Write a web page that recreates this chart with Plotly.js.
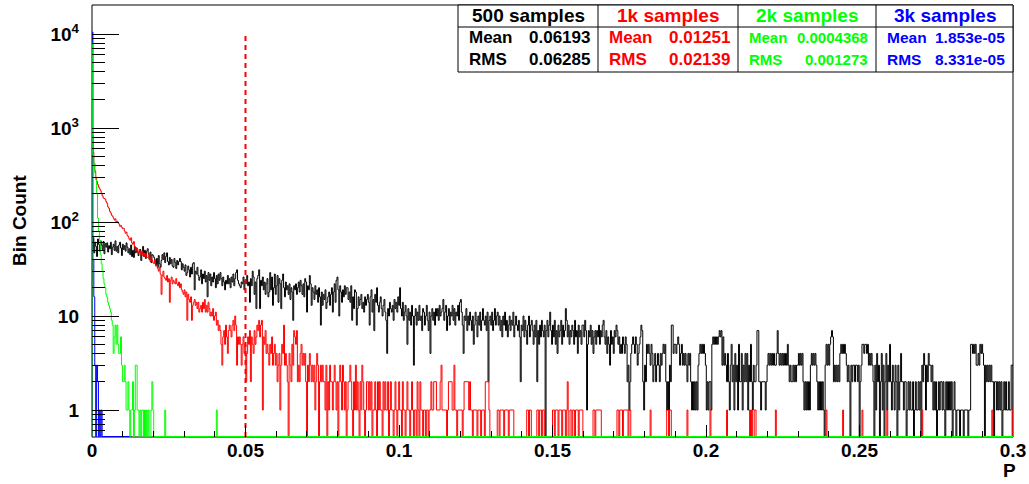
<!DOCTYPE html>
<html>
<head>
<meta charset="utf-8">
<script src="https://cdn.plot.ly/plotly-3.0.1.min.js"></script>
<style>
  html, body { margin: 0; padding: 0; background: #ffffff; }
  #chart { width: 1029px; height: 484px; }
</style>
</head>
<body>
<div id="chart"></div>
<script>
// Histogram binning of the p-value axis
const BIN_WIDTH = 0.0003;
const N_BINS = 1000;

// Axis ticks
const xTickVals = [0, 0.05, 0.1, 0.15, 0.2, 0.25, 0.3];
const xTickText = ['0', '0.05', '0.1', '0.15', '0.2', '0.25', '0.3'];
const yTickVals = [1, 10, 100, 1000, 10000];
const yTickText = ['1', '10', '10<sup>2</sup>', '10<sup>3</sup>', '10<sup>4</sup>'];

// Cut marker
const cutValue = 0.05;
const cutTop = 10000;

// Statistics table
const seriesNames = ['500 samples', '1k samples', '2k samples', '3k samples'];
const seriesMean = ['0.06193', '0.01251', '0.0004368', '1.853e-05'];
const seriesRms = ['0.06285', '0.02139', '0.001273', '8.331e-05'];
const seriesColors = ['#000000', '#ff0000', '#00ff00', '#0000ff'];

// Bin counts, 500 samples
const counts500 = [
52,68,47,61,55,43,66,58,49,63,
57,51,62,46,59,54,60,48,56,52,
61,45,54,58,50,63,49,55,47,57,
61,53,44,58,51,56,49,60,54,47,
52,45,57,43,50,42,55,47,53,48,
44,48,51,39,46,55,43,50,41,49,
52,46,40,48,37,45,44,42,38,35,
41,33,44,36,33,39,45,40,47,37,
43,47,38,35,42,36,40,34,33,41,
37,32,39,35,38,41,38,31,36,33,
30,35,27,29,34,31,26,33,28,36,
37,19,30,28,33,27,24,26,31,22,
28,25,30,23,27,16,29,24,28,21,
26,23,29,25,20,27,22,28,24,29,
25,21,26,23,19,24,22,27,22,25,
20,26,23,28,21,25,29,31,24,22,
21,20,23,22,26,19,24,22,27,21,
23,14,25,21,30,26,17,23,12,25,
27,31,12,24,21,26,19,23,17,22,
25,16,18,29,19,26,13,20,28,17,
21,27,14,25,22,12,24,28,20,16,
23,19,21,17,22,15,20,18,9,21,
19,22,17,20,23,18,24,21,17,22,
16,25,23,11,21,19,27,22,13,20,
18,15,21,17,19,14,20,16,8,18,
13,17,15,19,12,14,16,18,13,17,
20,11,18,22,14,24,26,19,10,21,
18,14,19,16,21,17,20,20,15,18,
14,21,9,16,12,19,18,8,12,16,
13,15,17,12,14,11,16,13,15,17,
14,8,16,19,11,15,7,17,14,20,
13,11,14,16,12,10,13,15,11,9,
4,12,10,14,12,11,13,9,15,12,
14,11,16,13,20,12,10,14,9,11,
13,10,5,12,9,11,8,13,10,3,
10,12,8,11,9,13,9,10,7,12,
11,8,10,13,9,7,11,4,10,12,
9,11,8,12,10,12,9,13,10,11,
12,15,9,11,13,7,10,12,8,11,
10,13,9,12,8,11,10,13,9,14,
15,11,8,4,10,9,12,7,10,8,
11,9,7,10,5,8,11,9,6,10,
8,11,7,9,12,9,8,10,7,11,
2,9,10,8,11,7,9,12,8,10,
11,8,10,7,9,6,10,8,11,7,
9,6,8,10,7,9,8,11,6,8,
10,8,7,9,6,2,8,7,10,6,
9,7,5,8,10,6,8,9,7,5,
8,6,9,2,7,5,8,6,9,7,
6,8,0,7,9,6,8,11,7,5,
8,6,9,5,7,4,8,6,7,9,
5,8,6,7,12,9,6,8,5,7,
6,8,7,5,9,6,7,4,8,6,
7,5,8,8,6,9,7,1,5,7,
6,8,5,7,4,6,7,5,7,6,
8,5,7,6,8,9,6,5,7,4,
6,5,3,7,5,6,4,7,6,8,
7,5,6,4,5,4,6,5,4,6,
5,2,3,1,2,4,5,6,5,4,
6,5,3,4,5,6,8,7,2,1,
3,2,5,4,5,4,3,5,4,2,
3,4,2,3,4,3,2,4,3,4,
5,4,5,2,1,2,1,3,2,8,
8,4,5,5,4,5,6,5,3,4,
5,3,4,3,4,3,2,4,3,4,
2,1,2,1,2,1,2,1,3,4,
5,4,5,4,5,4,3,1,2,1,
2,2,1,5,6,5,6,5,6,5,
6,7,6,7,3,6,3,4,3,2,
4,2,1,3,5,2,3,1,4,2,
3,1,5,2,2,4,1,3,2,4,
2,4,1,3,2,5,2,1,3,2,
2,3,7,7,2,2,1,2,2,2,
2,1,2,3,4,3,4,3,4,3,
4,3,3,4,7,4,3,4,3,4,
3,4,3,4,3,5,3,2,3,2,
2,3,2,3,2,3,3,4,3,4,
3,4,2,1,2,1,2,1,2,1,
3,4,3,4,3,4,3,2,1,2,
1,2,1,2,1,0,3,5,3,5,
3,5,6,7,6,2,3,2,3,2,
3,2,4,5,4,5,4,5,4,3,
2,3,2,0,3,2,3,3,2,3,
3,2,3,0,2,3,5,5,4,5,
5,4,5,3,4,3,4,3,2,0,
3,1,4,2,3,0,2,4,1,3,
0,2,4,1,3,2,5,2,1,3,
2,1,3,2,0,3,1,2,4,2,
2,1,2,2,0,1,2,1,2,1,
1,2,0,1,2,1,1,2,1,2,
0,3,2,4,3,1,3,2,4,3,
3,2,3,1,2,1,2,0,1,2,
1,2,2,1,2,1,0,2,1,2,
1,2,1,2,0,1,2,1,0,1,
1,1,0,1,1,1,0,1,1,1,
1,0,1,1,5,5,4,5,4,5,
3,3,4,3,5,4,5,4,3,0,
3,2,3,2,3,2,3,2,2,0,
2,2,1,2,1,2,1,2,0,1,
2,1,2,1,1,2,1,1,3,3
];

// Bin counts, 1k samples
const counts1k = [
850,550,420,350,300,270,250,235,225,215,
200,190,180,178,175,165,158,145,140,130,
125,118,115,110,105,108,100,102,98,95,
90,92,88,85,86,80,76,78,72,70,
66,64,68,60,58,62,54,50,53,49,
47,51,48,45,49,44,47,43,46,42,
42,45,40,38,43,39,37,36,40,34,
35,32,30,33,28,17,27,30,26,25,
24,27,23,25,14,24,26,22,24,23,
22,25,22,21,23,20,22,19,18,17,
19,16,18,9,17,15,14,16,9,13,
14,15,13,14,12,14,11,12,13,11,
14,12,15,11,13,11,14,12,10,11,
10,12,9,10,11,8,9,7,8,7,
5,3,6,7,5,8,6,4,7,8,
7,6,8,9,7,10,8,3,6,5,
6,5,3,5,6,4,5,2,4,6,
5,7,2,6,5,4,7,5,6,8,
7,9,6,8,9,1,6,5,7,4,
5,4,3,5,4,6,3,4,5,3,
4,2,3,4,1,3,5,4,8,3,
4,3,2,0,4,3,2,5,3,7,
6,5,7,2,3,2,4,5,3,4,
3,4,2,0,3,2,4,3,2,3,
2,3,1,2,4,3,0,2,3,2,
3,2,2,1,3,0,2,1,3,2,
2,1,2,3,2,1,2,0,2,3,
2,1,3,2,1,2,0,1,2,2,
3,2,1,0,2,1,3,1,2,1,
0,2,1,3,2,1,0,1,2,2,
1,2,1,2,0,1,1,2,1,0,
2,1,2,1,1,0,2,1,2,1,
1,2,0,1,2,1,1,0,1,2,
1,0,1,2,1,1,0,2,1,1,
0,1,2,1,1,0,1,2,1,0,
1,1,0,2,1,0,2,1,1,0,
1,1,0,1,1,0,1,1,2,1,
1,2,2,2,1,1,1,1,2,3,
1,1,1,1,1,0,1,2,2,2,
2,1,1,3,1,1,0,1,1,1,
1,1,0,1,2,2,2,2,2,1,
2,1,1,0,1,1,1,1,0,1,
1,1,0,1,1,1,0,2,2,2,
2,1,0,0,0,0,0,0,0,0,
1,1,0,1,1,1,1,0,1,1,
1,1,0,1,1,1,1,1,0,0,
0,0,0,0,0,0,0,0,0,0,
0,0,1,1,0,1,1,0,0,0,
0,0,0,1,1,0,1,1,0,1,
1,0,0,0,0,0,0,0,0,0,
1,1,0,1,1,1,0,1,1,1,
0,1,1,1,0,1,2,0,0,1,
1,0,1,1,0,1,1,1,0,1,
1,1,1,0,0,0,0,0,0,0,
0,0,0,0,1,1,0,1,1,1,
1,1,1,0,0,0,0,0,0,0,
0,0,0,0,0,0,0,0,0,0,
1,1,0,1,1,1,0,1,1,1,
1,1,0,1,1,0,0,0,0,0,
0,0,0,0,0,0,0,0,0,0,
0,0,0,0,0,0,1,0,0,0,
0,0,0,0,0,0,0,0,0,0,
0,0,0,0,1,1,0,1,1,0,
0,0,0,0,0,0,0,0,0,0,
0,0,0,0,0,0,1,0,0,0,
0,0,0,0,0,0,0,0,0,0,
0,0,0,0,0,0,0,0,0,0,
0,1,0,0,0,0,0,0,0,0,
0,0,0,0,0,0,0,0,0,1,
0,0,0,0,0,0,0,0,0,0,
0,0,0,0,0,0,0,0,0,0,
0,0,0,0,1,0,1,0,0,1,
1,0,0,0,0,0,0,0,0,0,
0,0,0,0,0,0,0,0,0,0,
0,0,1,0,0,0,0,0,0,0,
0,0,0,0,0,0,0,0,0,0,
0,0,0,0,0,0,0,0,0,0,
0,0,0,0,0,0,0,0,0,0,
0,0,0,0,0,0,0,0,0,0,
0,0,0,0,0,0,0,1,0,0,
0,0,0,0,0,0,0,0,0,0,
0,0,0,0,0,1,0,0,0,0,
0,0,0,0,0,0,0,0,0,0,
0,0,0,0,0,0,1,0,0,0,
0,0,0,0,0,0,0,0,0,0,
0,0,0,0,0,0,0,0,0,0,
0,0,0,1,0,0,0,0,0,0,
0,0,0,0,0,0,0,0,0,0,
0,0,0,0,0,0,0,0,0,0,
0,0,0,0,0,0,0,0,0,0,
0,1,0,0,0,0,0,0,0,0,
0,0,0,0,0,0,0,0,0,0,
0,0,0,0,0,0,0,0,0,0,
0,0,0,0,0,0,0,0,0,0,
0,0,0,0,0,0,0,0,0,0,
0,0,0,0,0,0,0,0,0,0,
0,0,0,0,0,0,0,0,0,0,
0,0,0,0,0,0,0,1,0,0,
0,0,0,0,0,0,0,0,0,0,
0,0,0,0,0,0,0,0,0,1
];

// Bin counts, 2k samples (bins beyond the list are empty)
const counts2k = [
8000,520,420,330,280,200,110,80,64,45,
36,30,25,22,20,17,16,14,13,12,
11,9,8,4,6,8,5,8,5,4,
4,6,3,2,2,3,2,1,1,2,
1,0,1,1,2,0,1,3,3,1,
1,0,1,0,1,1,0,1,0,1,
0,1,0,0,1,2,1,0,0,0,
0,0,0,0,0,0,0,0,0,1,
0,0,0,0,0,0,0,0,0,0,
0,0,0,0,0,0,0,0,0,0,
0,0,0,0,0,0,0,0,0,0,
0,0,0,0,0,0,0,0,0,0,
0,0,0,0,0,0,0,0,0,0,
0,0,0,0,0,1
];

// Bin counts, 3k samples
const counts3k = [
10500,40,16,3,0,3,2,0,1,0,
1,0,0,0,0,0,0,0,0,0,
0,0,0,0,0,0,0,0,0,0,
0,0,0,0,0,0,0,0,0,0,
0,0,0
];

// Plot frame in pixels
const PLOT_L = 92, PLOT_R = 1013, PLOT_T = 5, PLOT_B = 437;
const Y_LOG_MIN = -0.287, Y_LOG_MAX = 4.309;
const PX_PER_DECADE = (PLOT_B - PLOT_T) / (Y_LOG_MAX - Y_LOG_MIN);
// empty bins are drawn along the lower edge of the frame
const FLOOR = Math.pow(10, Y_LOG_MIN + 0.5 / PX_PER_DECADE);

const px2x = px => (px - PLOT_L) / (PLOT_R - PLOT_L);
const px2y = py => (PLOT_B - py) / (PLOT_B - PLOT_T);

function stepPath(counts, nBins) {
  const xs = [0], ys = [FLOOR];
  for (let i = 0; i < nBins; i++) {
    const c = i < counts.length ? counts[i] : 0;
    const v = c > 0 ? c : FLOOR;
    xs.push(i * BIN_WIDTH, (i + 1) * BIN_WIDTH);
    ys.push(v, v);
  }
  xs.push(nBins * BIN_WIDTH);
  ys.push(FLOOR);
  return { x: xs, y: ys };
}

function histTrace(counts, nBins, color) {
  const p = stepPath(counts, nBins);
  return {
    type: 'scatter', mode: 'lines', x: p.x, y: p.y,
    line: { color: color, width: 1 }, hoverinfo: 'skip', showlegend: false
  };
}

const traces = [
  histTrace(counts500, N_BINS, seriesColors[0]),
  histTrace(counts1k, N_BINS, seriesColors[1]),
  histTrace(counts3k, counts3k.length, seriesColors[3]),
  histTrace(counts2k, N_BINS, seriesColors[2]),
  {
    type: 'scatter', mode: 'lines',
    x: [cutValue, cutValue], y: [Math.pow(10, Y_LOG_MIN), cutTop],
    line: { color: '#ff0000', width: 2, dash: '5px,4px' },
    hoverinfo: 'skip', showlegend: false
  }
];

// minor ticks on the log axis
const yMinor = [];
for (let d = -1; d <= 4; d++) {
  for (let m = 2; m <= 9; m++) {
    const v = m * Math.pow(10, d);
    if (Math.log10(v) > Y_LOG_MIN && Math.log10(v) < Y_LOG_MAX) yMinor.push(v);
  }
}

const FONT = 'Liberation Sans, Arial, Helvetica, sans-serif';

// Statistics table
const colEdges = [458, 598, 738, 876, 1013];
const tableTop = 5, headerBottom = 27, tableBottom = 72;
const headerY = 16, meanY = 38, rmsY = 60;
const rowSizes = [17, 17, 15, 15.5];

const shapes = [
  { type: 'rect', xref: 'paper', yref: 'paper', x0: 0, x1: 1, y0: 0, y1: 1,
    line: { color: '#000', width: 1 }, layer: 'below' },
  { type: 'rect', xref: 'paper', yref: 'paper',
    x0: px2x(colEdges[0]), x1: px2x(colEdges[4]), y0: px2y(tableBottom), y1: px2y(tableTop),
    fillcolor: '#ffffff', line: { color: '#000', width: 1 } },
  { type: 'line', xref: 'paper', yref: 'paper',
    x0: px2x(colEdges[0]), x1: px2x(colEdges[4]), y0: px2y(headerBottom), y1: px2y(headerBottom),
    line: { color: '#000', width: 1 } }
];
for (let c = 1; c < 4; c++) {
  shapes.push({ type: 'line', xref: 'paper', yref: 'paper',
    x0: px2x(colEdges[c]), x1: px2x(colEdges[c]), y0: px2y(tableBottom), y1: px2y(tableTop),
    line: { color: '#000', width: 1 } });
}

const annotations = [];
for (let c = 0; c < 4; c++) {
  const l = colEdges[c], r = colEdges[c + 1];
  const col = seriesColors[c];
  annotations.push({ xref: 'paper', yref: 'paper', x: px2x((l + r) / 2), y: px2y(headerY),
    text: seriesNames[c], showarrow: false, xanchor: 'center', yanchor: 'middle',
    font: { family: FONT, size: 19, color: col, weight: 'bold' } });
  [['Mean', seriesMean[c], meanY], ['RMS', seriesRms[c], rmsY]].forEach(row => {
    annotations.push({ xref: 'paper', yref: 'paper', x: px2x(l + 9), y: px2y(row[2]),
      text: row[0], showarrow: false, xanchor: 'left', yanchor: 'middle',
      font: { family: FONT, size: rowSizes[c], color: col, weight: 'bold' } });
    annotations.push({ xref: 'paper', yref: 'paper', x: px2x(r - 6), y: px2y(row[2]),
      text: row[1], showarrow: false, xanchor: 'right', yanchor: 'middle',
      font: { family: FONT, size: rowSizes[c], color: col, weight: 'bold' } });
  });
}
annotations.push({ xref: 'paper', yref: 'paper', x: px2x(1009), y: px2y(470),
  text: 'P', showarrow: false, xanchor: 'center', yanchor: 'middle',
  font: { family: FONT, size: 19, color: '#000', weight: 'bold' } });
annotations.push({ xref: 'paper', yref: 'paper', x: px2x(19), y: px2y(221),
  text: 'Bin Count', textangle: -90, showarrow: false, xanchor: 'center', yanchor: 'middle',
  font: { family: FONT, size: 19, color: '#000', weight: 'bold' } });

const layout = {
  width: 1029, height: 484,
  margin: { l: PLOT_L, r: 1029 - PLOT_R, t: PLOT_T, b: 484 - PLOT_B, pad: 0 },
  paper_bgcolor: '#ffffff', plot_bgcolor: '#ffffff',
  showlegend: false,
  xaxis: {
    range: [0, 0.3], tickmode: 'array', tickvals: xTickVals, ticktext: xTickText,
    ticks: 'inside', ticklen: 12, tickwidth: 1, tickcolor: '#000',
    showgrid: false, zeroline: false, showline: false,
    tickfont: { family: FONT, size: 19, color: '#000', weight: 'bold' },
    minor: { tickmode: 'linear', tick0: 0, dtick: 0.01, ticks: 'inside', ticklen: 6,
             tickwidth: 1, tickcolor: '#000', showgrid: false }
  },
  yaxis: {
    type: 'log', range: [Y_LOG_MIN, Y_LOG_MAX],
    tickmode: 'array', tickvals: yTickVals, ticktext: yTickText,
    ticks: 'inside', ticklen: 27, tickwidth: 1, tickcolor: '#000',
    showgrid: false, zeroline: false, showline: false,
    ticklabelstandoff: 12,
    tickfont: { family: FONT, size: 19, color: '#000', weight: 'bold' },
    minor: { tickmode: 'array', tickvals: yMinor, ticks: 'inside', ticklen: 13,
             tickwidth: 1, tickcolor: '#000', showgrid: false }
  },
  shapes: shapes,
  annotations: annotations
};

Plotly.newPlot('chart', traces, layout, { staticPlot: true, displayModeBar: false });
</script>
</body>
</html>
